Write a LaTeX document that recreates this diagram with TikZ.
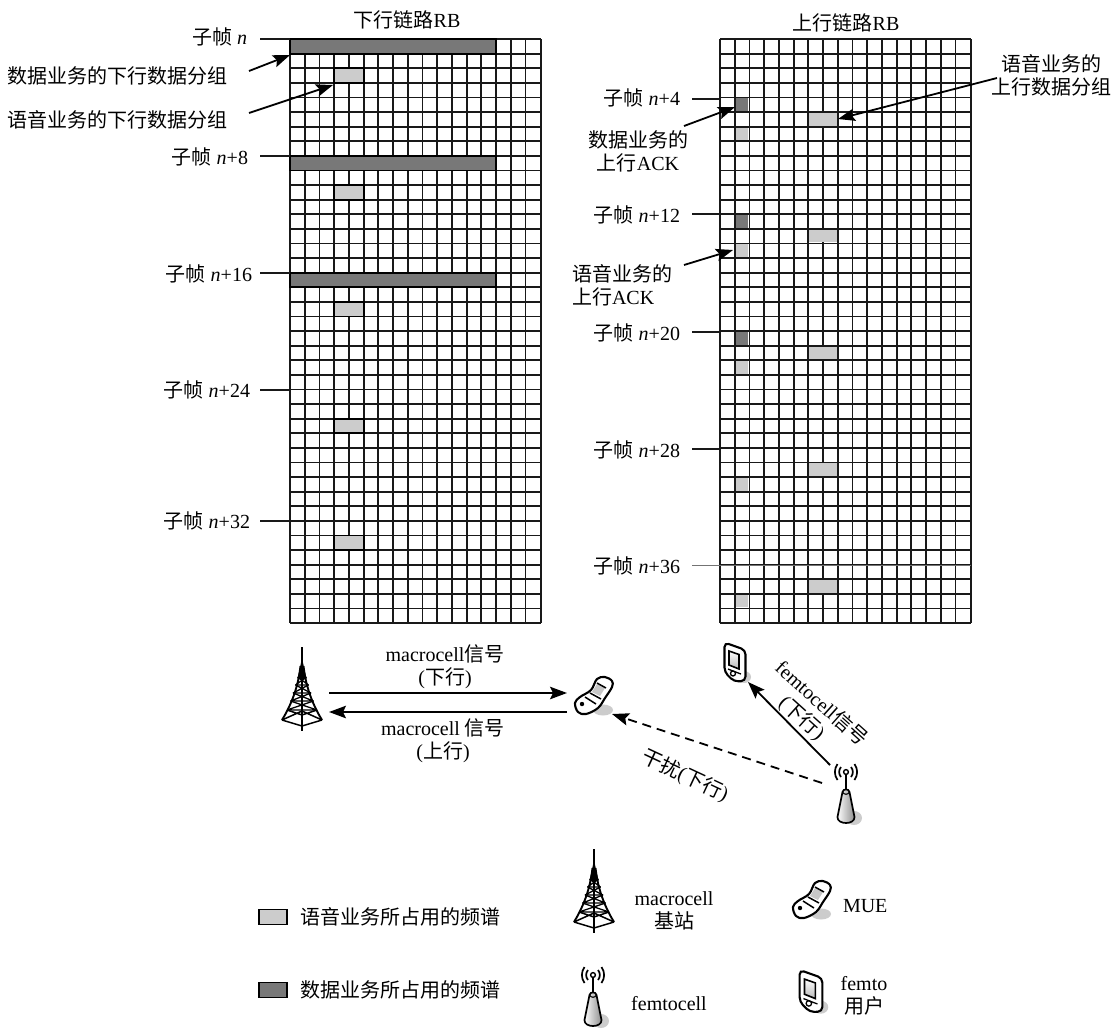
\documentclass[tikz,border=0pt]{standalone}
\usepackage{fontspec}
\setmainfont{Liberation Serif}
\newfontfamily\cjkf{Noto Sans CJK SC}
\newcommand{\zh}[1]{{\cjkf #1}}
\newcommand{\fn}[1]{\zh{子帧} \textit{n}#1}
\usetikzlibrary{arrows.meta}
\definecolor{lightcell}{gray}{0.80}
\definecolor{darkcell}{gray}{0.47}
\tikzset{
  x=1pt,y=-1pt,
  txt/.style={inner sep=0pt,outer sep=0pt,font=\fontsize{20}{23}\selectfont,align=center},
  gridline/.style={line width=1.8pt,black!90},
  leader/.style={line width=1.6pt,black!90},
  callout/.style={line width=1.8pt,black,-{Stealth[length=17pt,width=12.5pt,inset=3pt]}},
  signal/.style={line width=1.8pt,black,-{Stealth[length=17pt,width=12.5pt,inset=3pt]}},
  darkbox/.style={fill=darkcell,draw=black,line width=1.8pt},
  lightbox/.style={fill=lightcell,draw=black,line width=1.8pt},
  softdark/.style={fill=darkcell,draw=none},
  softlight/.style={fill=lightcell,draw=none},
  tower/.pic={
    \draw[line width=1.8pt] (0,-43)--(0,41);
    \fill (0,-32)--(-4.5,-11)--(4.5,-11)--cycle;
    \draw[line width=1.9pt,line join=round]
      (-1.5,-24) .. controls (-3.5,-6) and (-9,12) .. (-20,30)
      (1.5,-24) .. controls (3.5,-6) and (9,12) .. (20,30);
    \foreach \ya/\wa/\yb/\wb in {-13/4.5/-5/6.5,-5/6.5/3/9,3/9/11/11.5,11/11.5/20/15}{
      \draw[line width=1.3pt] (-\wa,\ya)--(\wb,\yb) (\wa,\ya)--(-\wb,\yb)
        (-\wb,\yb)--(\wb,\yb);
    }
    \draw[line width=1.5pt,line join=round]
      (-15,20)--(0,25)--(15,20)
      (-20,30)--(0,21)--(20,30)
      (-20,30)--(0,36)--(20,30);
  },
  flipphone/.pic={
    \fill[black!20] (9,15) ellipse (10 and 5.5);
    \draw[line width=2.1pt,fill=white,line join=round]
      plot[smooth cycle,tension=0.6] coordinates
      {(-19,8) (-16,17) (-8,19) (4,13) (11,3) (18,-8) (18,-14) (11,-18) (3,-16) (-3,-5) (-14,2)};
    \fill[black!22] (-2,-3)--(3,-11)--(11,-7)--(6,1)--cycle;
    \draw[line width=1.5pt] (3,-12)--(12,-7) (-4,-2)--(7,4) (-9,2)--(2,9);
    \fill[black] (-12,9) circle (2.2);
  },
  handheld/.pic={
    \fill[black!20] (9,15) ellipse (7 and 6);
    \draw[line width=2.1pt,fill=white,rounded corners=4.5pt]
      (-10.5,-19.5)--(10.5,-12)--(10.5,19)--(-1,19.5)--(-10.5,10)--cycle;
    \draw[line width=1.6pt,top color=white,bottom color=black!28]
      (-6,-11)--(4,-7.5)--(4,7)--(-6,3)--cycle;
    \draw[line width=1.3pt] (-2,11.5) circle (2.5);
    \draw[line width=1.3pt] (-7,7)--(-2,9)--(6,12);
  },
  femto/.pic={
    \fill[black!20] (8,46) ellipse (8 and 7);
    \draw[line width=1.8pt] (0,2.5)--(0,19);
    \draw[line width=1.4pt] (0,0) circle (2.4);
    \draw[line width=1.7pt]
      (-5,-5) .. controls (-7.5,-2) and (-7.5,2) .. (-5,5)
      (5,-5) .. controls (7.5,-2) and (7.5,2) .. (5,5)
      (-8.5,-8) .. controls (-12,-3) and (-12,3) .. (-8.5,8)
      (8.5,-8) .. controls (12,-3) and (12,3) .. (8.5,8);
    \draw[line width=1.7pt,left color=white,right color=black!45]
      (-3.5,20) .. controls (-3,16.5) and (3,16.5) .. (3.5,20)
      -- (8.5,45) .. controls (9,53) and (-9,53) .. (-8.5,45) -- cycle;
    \draw[line width=1.1pt] (-3.5,20) .. controls (-2,23) and (2,23) .. (3.5,20);
  }
}
% frame label: name, text, text right edge, leader start, leader end, y, text y
\newcommand{\sflabel}[7]{%
  \node[txt,anchor=east] (#1) at (#3,#7) {#2};
  \coordinate (#1s) at (#4,#6);
  \coordinate (#1e) at (#5,#6);
  \draw[leader] (#1s)--(#1e);}
\begin{document}
\begin{tikzpicture}
\useasboundingbox[fill=white] (0,0) rectangle (1112,1029);
\def\cw{14.72}\def\rh{14.6}
% ---- grids (the last column is wider than the others)
\foreach \x in {290,720}{
  \foreach \i in {0,...,16}{\draw[gridline] ({\x+\i*\cw},39)--({\x+\i*\cw},623);}
  \draw[gridline] ({\x+251},39)--({\x+251},623);
  \foreach \j in {0,...,40}{\draw[gridline] (\x,{39+\j*\rh})--({\x+251},{39+\j*\rh});}
}
\foreach \j in {0,8,16}{
  \draw[darkbox] (290,{39+\j*\rh}) rectangle ({290+14*\cw},{39+(\j+1)*\rh});}
\foreach \j in {2,10,18,26,34}{
  \draw[lightbox] ({290+3*\cw},{39+\j*\rh}) rectangle ({290+5*\cw},{39+(\j+1)*\rh});}
\foreach \j in {4,12,20}{
  \fill[softdark] ({720+\cw+1},{39+\j*\rh+1}) rectangle ({720+2*\cw-1},{39+(\j+1)*\rh-1});}
\foreach \j in {6,14,22,30,38}{
  \fill[softlight] ({720+\cw+1},{39+\j*\rh+1}) rectangle ({720+2*\cw-1},{39+(\j+1)*\rh-1});}
\foreach \j in {5,13,21,29,37}{
  \fill[softlight] ({720+6*\cw+1},{39+\j*\rh+1}) rectangle ({720+8*\cw-1},{39+(\j+1)*\rh-1});}
% ---- titles
\node[txt] (dltitle) at (407,20) {\zh{下行链路}RB};
\node[txt] (ultitle) at (846,23) {\zh{上行链路}RB};
% ---- frame labels
\sflabel{fa}{\fn{}}{247}{260}{290}{39}{37}
\sflabel{fb}{\fn{+8}}{248}{260}{290}{156}{157}
\sflabel{fc}{\fn{+16}}{252}{260}{290}{273}{274}
\sflabel{fd}{\fn{+24}}{250}{260}{290}{390}{390}
\sflabel{fe}{\fn{+32}}{250}{260}{290}{521}{521}
\sflabel{ga}{\fn{+4}}{680}{692}{720}{99}{98}
\sflabel{gb}{\fn{+12}}{680}{692}{720}{214}{215}
\sflabel{gc}{\fn{+20}}{680}{692}{720}{332}{333}
\sflabel{gd}{\fn{+28}}{680}{692}{720}{449}{450}
\coordinate (gelineS) at (692,565); \coordinate (gelineE) at (971,565);
\node[txt,anchor=east] (ge) at (680,566) {\fn{+36}};
\draw[line width=1pt,black!55] (gelineS)--(gelineE);
% ---- callouts
\node[txt,anchor=west] (ca) at (8,76) {\zh{数据业务的下行数据分组}};
\node[txt,anchor=west] (cb) at (8,120) {\zh{语音业务的下行数据分组}};
\coordinate (caS) at (249,71); \coordinate (caE) at (290,55);
\coordinate (cbS) at (249,113); \coordinate (cbE) at (333,85);
\draw[callout] (caS)--(caE);
\draw[callout] (cbS)--(cbE);
\node[txt] (cc) at (1051,75) {\zh{语音业务的}\\\zh{上行数据分组}};
\coordinate (ccS) at (997,78); \coordinate (ccE) at (838,119);
\draw[callout] (ccS)--(ccE);
\node[txt] (cd) at (638,151) {\zh{数据业务的}\\\zh{上行}ACK};
\coordinate (cdS) at (684,126); \coordinate (cdE) at (735,107);
\draw[callout] (cdS)--(cdE);
\node[txt,align=left] (ce) at (622,285) {\zh{语音业务的}\\\zh{上行}ACK};
\coordinate (ceS) at (684,265); \coordinate (ceE) at (733,250);
\draw[callout] (ceS)--(ceE);
% ---- network scene
\pic at (302,690) {tower};
\pic at (594,695) {flipphone};
\pic at (735,662) {handheld};
\pic at (846,772) {femto};
\coordinate (towerDL) at (329,693); \coordinate (phoneDL) at (567,693);
\coordinate (towerUL) at (329,712); \coordinate (phoneUL) at (567,712);
\coordinate (femtoA) at (830,765); \coordinate (pdaA) at (748,682);
\coordinate (femtoB) at (822,783); \coordinate (phoneB) at (612,714);
\draw[signal] (towerDL)--(phoneDL);
\draw[signal] (phoneUL)--(towerUL);
\draw[signal] (femtoA)--(pdaA);
\draw[signal,dash pattern=on 9pt off 6pt] (femtoB)--(phoneB);
\node[txt] (s1) at (445,667) {macrocell\zh{信号}\\(\zh{下行})};
\node[txt] (s2) at (443,741) {macrocell \zh{信号}\\(\zh{上行})};
\node[txt,rotate=-42] (s3) at (822,703) {femtocell\zh{信号}};
\node[txt,rotate=-42] (s4) at (802,718) {(\zh{下行})};
\node[txt,rotate=-25] (s5) at (685,776) {\zh{干扰}(\zh{下行})};
% ---- legend
\node[lightbox,inner sep=0pt,minimum width=28pt,minimum height=15pt] (k1) at (273,917) {};
\node[darkbox,inner sep=0pt,minimum width=28pt,minimum height=15pt] (k2) at (273,990) {};
\node[txt,anchor=west] (k1t) at (300,917) {\zh{语音业务所占用的频谱}};
\node[txt,anchor=west] (k2t) at (300,990) {\zh{数据业务所占用的频谱}};
\pic at (594,892) {tower};
\pic at (812,899) {flipphone};
\pic[scale=1.08] at (811,991) {handheld};
\pic at (593,975) {femto};
\node[txt] (k3) at (674,911) {macrocell\\\zh{基站}};
\node[txt,anchor=west] (k4) at (843,906) {MUE};
\node[txt] (k5) at (669,1004) {femtocell};
\node[txt] (k6) at (864,996) {femto\\\zh{用户}};
\end{tikzpicture}
\end{document}
